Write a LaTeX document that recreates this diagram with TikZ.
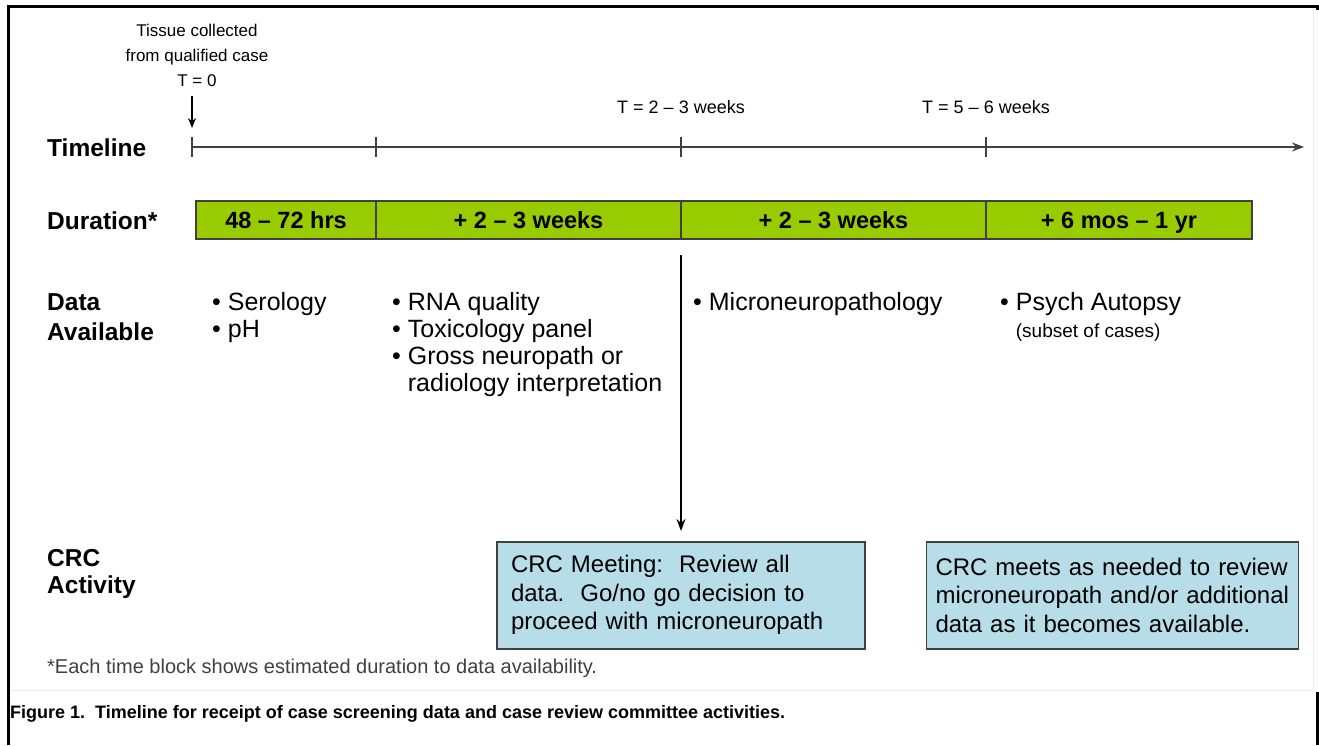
\documentclass[tikz,border=0pt]{standalone}
\usepackage{fontspec}
\setmainfont{Liberation Sans}
\usepackage{xcolor}
\usepackage{tikz}
\usetikzlibrary{positioning, arrows.meta}
\definecolor{bargreen}{RGB}{153,204,0}
\definecolor{boxblue}{RGB}{183,221,232}
\definecolor{linegray}{RGB}{64,64,64}
\tikzset{
	>={Stealth[length=12pt, width=9pt]}, % makes the arrow heads bold
	rowlabel/.style={anchor=north west, align=left, inner sep=0pt, font=\fontsize{24.5}{30}\selectfont\bfseries}, % row titles on the left
	axisline/.style={draw=linegray, line width=1.5pt}, % time axis and its ticks
	durblock/.style={draw=linegray, line width=1.5pt, fill=bargreen, minimum height=38pt, inner sep=0pt, outer sep=0pt, text height=17.5pt, text depth=0.5pt, font=\fontsize{23.5}{28}\selectfont\bfseries}, % one block of the duration bar
	datalist/.style={anchor=north west, align=left, inner sep=0pt, font=\fontsize{25}{27}\selectfont}, % lists of available data
	crcbox/.style={draw=linegray, line width=1.5pt, fill=boxblue, align=left, minimum height=107pt, inner ysep=12pt, font=\fontsize{24}{28.5}\selectfont}, % committee boxes
	toptext/.style={inner sep=0pt, align=center, font=\fontsize{17}{25}\selectfont}, % notes above the axis
}

\begin{document}
\begin{tikzpicture}[x=1pt, y=-1pt]
	\useasboundingbox (0,0) rectangle (1319,745);
	% frame round the figure
	\draw[gray!15, line width=1pt] (8,690) -- (1313,690) -- (1313,6);
	\draw[line width=3pt] (8,745) -- (8,6) -- (1317,6) -- (1317,10);
	\draw[line width=3pt] (1317,692) -- (1317,745);
	
	% Row titles
	\node[rowlabel, anchor=base west] (ltime) at (47,156) {Timeline};
	\node[rowlabel, anchor=base west] (ldur) at (47,229) {Duration*};
	\node[rowlabel] (ldata) at (47,293) {Data\\Available};
	\node[rowlabel, font=\fontsize{24.5}{27}\selectfont\bfseries] (lcrc) at (47,549) {CRC\\Activity};
	
	% Duration bar
	\node[durblock, minimum width=180pt] (seg1) at (286,220) {48 – 72 hrs};
	\node[durblock, minimum width=305pt, right=0pt of seg1] (seg2) {+ 2 – 3 weeks};
	\node[durblock, minimum width=305pt, right=0pt of seg2] (seg3) {+ 2 – 3 weeks};
	\node[durblock, minimum width=266pt, right=0pt of seg3] (seg4) {+ 6 mos – 1 yr};
	
	% Time axis
	\coordinate (t0) at (192,147);
	\coordinate (t1) at (seg1.east |- t0);
	\coordinate (t2) at (seg2.east |- t0);
	\coordinate (t3) at (seg3.east |- t0);
	\coordinate (tend) at (1304,147);
	\coordinate (t0top) at (192,128);
	\draw[axisline, ->] (t0) -- (tend);
	\foreach \tk in {t0,t1,t2,t3}
		\draw[axisline] ([yshift=-10pt]\tk) -- ([yshift=10pt]\tk);
	
	% Notes above the axis
	\node[toptext] (tissue) at (197,55) {Tissue collected\\from qualified case\\T = 0};
	\node[toptext, font=\fontsize{18}{22}\selectfont] (tw2) at (t2 |- 0,107) {T = 2 – 3 weeks};
	\node[toptext, font=\fontsize{18}{22}\selectfont] (tw5) at (t3 |- 0,107) {T = 5 – 6 weeks};
	\draw[-{Stealth[length=10pt, width=8pt]}, line width=1.8pt, shorten <=10pt] (tissue.south -| t0top) -- (t0top);
	
	% Data available
	\node[datalist] (dat1) at (212,292) {• Serology\\• pH};
	\node[datalist] (dat2) at (392,292) {• RNA quality\\• Toxicology panel\\• Gross neuropath or\\\phantom{• }radiology interpretation};
	\node[datalist] (dat3) at (693,292) {• Microneuropathology};
	\node[datalist] (dat4) at (1000,292) {• Psych Autopsy\\\phantom{• }{\fontsize{19}{27}\selectfont(subset of cases)}};
	
	% CRC activity
	\node[crcbox, text width=340pt, inner xsep=14pt, anchor=north] (meet) at (681,541) {CRC Meeting:\ \ Review all\\data.\ \ Go/no go decision to\\proceed with microneuropath};
	\node[crcbox, text width=354pt, inner xsep=9pt, right=60pt of meet] (review) {CRC meets as needed to review\\microneuropath and/or additional\\data as it becomes available.};
	\draw[->, line width=1.2pt, shorten >=10pt] ([yshift=-16pt]seg2.south east) -- (meet);
	
	% Footnote and caption
	\node[anchor=base west, inner sep=0pt, text=black!75, font=\fontsize{20}{24}\selectfont] (foot) at (47,673) {*Each time block shows estimated duration to data availability.};
	\node[anchor=base west, inner sep=0pt, font=\fontsize{18}{22}\selectfont\bfseries] (caption) at (10,718) {Figure 1.\ \ Timeline for receipt of case screening data and case review committee activities.};
\end{tikzpicture}
\end{document}
